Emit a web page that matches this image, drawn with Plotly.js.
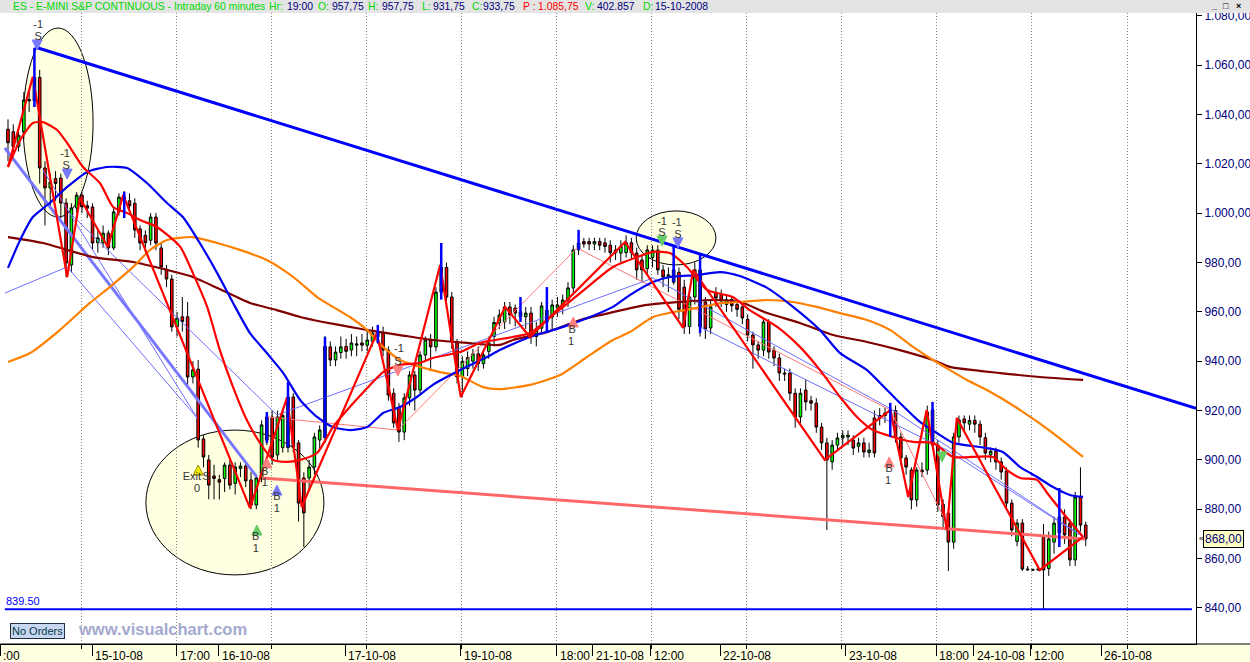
<!DOCTYPE html>
<html><head><meta charset="utf-8">
<script src="https://cdn.plot.ly/plotly-3.0.1.min.js"></script>
<style>
html,body{margin:0;padding:0;background:#fff;}
#wrap{position:relative;width:1250px;height:662px;overflow:hidden;}
#chart{position:absolute;left:0;top:0;width:1250px;height:662px;}
#hdr{position:absolute;left:0;top:0;width:1250px;height:13px;background:#e4e4e4;z-index:10;font-family:"Liberation Sans",Arial,sans-serif;font-size:10.4px;line-height:13px;white-space:nowrap;}
#hdr span{position:absolute;top:0;}
.g{color:#00d800}.n{color:#000080}.r{color:#ff0000}.k{color:#000;font-size:9px;line-height:11px;font-weight:bold}
</style></head><body>
<div id="wrap"><div id="chart"></div>
<div id="hdr">
<span class="g" style="left:13px">ES - E-MINI S&amp;P CONTINUOUS - Intraday 60 minutes</span>
<span class="g" style="left:269px">Hr:</span><span class="n" style="left:287px">19:00</span>
<span class="g" style="left:318px">O:</span><span class="n" style="left:332px">957,75</span>
<span class="g" style="left:368px">H:</span><span class="n" style="left:382px">957,75</span>
<span class="g" style="left:422px">L:</span><span class="n" style="left:433px">931,75</span>
<span class="g" style="left:472px">C:</span><span class="n" style="left:483px">933,75</span>
<span class="r" style="left:523px">P :</span><span class="r" style="left:538px">1.085,75</span>
<span class="g" style="left:585px">V:</span><span class="n" style="left:597px">402.857</span>
<span class="g" style="left:643px">D:</span><span class="n" style="left:655px">15-10-2008</span>
<span class="k" style="left:1212px;top:1px">_</span>
<span class="k" style="left:1223px;top:1px">□</span>
<span class="k" style="left:1236px;top:1px">×</span>
</div></div>
<script>
// ---------- candle data (60-minute bars) ----------
const opens = [1034,1033,1027,1033,1046,1045.5,1055,1018.3,1010.2,1014,
1014.2,1004.1,979,1002.1,1007.3,1003,1002.5,988,988,991.9,
985.9,1000.5,1006.5,1005,1004,993.6,991,989,998.4,985.9,
977,973.3,953.9,958,958,933.6,936.8,908.5,900,893.5,
892,892.5,897.9,890.5,896.5,897.5,891.9,881.7,892.7,908,
917.4,902,905,905,925.5,906.9,892.7,892.7,897.1,908.1,
909,945.8,940.5,943.5,946,944.5,946.5,947.4,946.5,948,
950,951.4,944.5,927,921.4,911.3,925.1,934.4,928.3,942.5,
948.6,945.8,968,978,966,947.8,933.6,937,940,943,
939,944,950,955.5,956,962,961.5,958,958,959.5,
950,953.4,955.9,957.9,961.5,962,964.8,969.7,985.1,988.5,
988.5,987.5,988.5,988,987,984,983.8,984,988,983.8,
981,977.5,982,985,977,974,972,976,970,954,
966,977,964,953.5,967.6,967,963,965,963,962,
957,950.6,946.6,944.5,955.9,944.5,941.3,935.2,935.2,927,
917.4,928.3,924,923,913.3,906.9,899.2,906,908.9,909.3,
908,905.5,906.9,903,917,918,919,920,920,909.3,
900.8,895.9,883.8,895.9,895.9,920.2,906,882,878.5,866.7,
909.3,916.6,914.5,916,914.5,909,902,903.5,899.2,895.5,
882.5,867,874.4,855.8,855.5,855.4,868.8,856,866.7,870.4,
876.9,874.4,859.5,885,873.6];
const highs = [1038,1036,1035,1049,1050,1058,1058,1021,1016,1017,
1016,1006,1004,1008.5,1008.5,1005,1004,993,995,993,
1002,1008,1009,1008,1006,995,993,1000,1000,988,
979,975,960,966,964,940,940.5,910,902,898,
894,899,900,899,899,899,895,894,916,919.4,
920,920,920,931.6,927,908,895,900,911,914,
950.2,948,946,950,949,951,950,951,952,954,
954.7,954,946,929,923,927,936,936,944,950,
951,970,987.9,980,968,949,942,944,945,946,
945,950,958,961,964,964,963,966,962,962,
956,964,970,965,966,967,972,987,993.2,990,
990,990,990,990,989,987,989,991,990,986,
983,987,987,987,979,978,986.3,978,973,968,
980,983,966,965,970,969,967,966,965,963,
959,952,948,957,957,946,943,937,937,929,
929,932.4,926,925,915,909,908,911,912,912,
910,909,909,907,920,921,921,923.1,922,911,
902,897,897,899,922,923.5,908,884,880,911,
918,918,918,918,916,911,905,905,901,897,
884,876,876,857,856,856.5,874,871,877,888.6,
880,876,887,897,875];
const lows = [1021,1024,1025,1030,1041,1043,1012,995,1002,1005,
998,974,976,1000,1000,998,985,984,986,983,
985,999,998,1000,990,985,984,987,985,975,
970,952,950,952,930,931,905,897,884,884,
884,887,888,886,893,889,880,880,891,906,
898,900,903,903,903,875,864.7,888,894,904,
907,938,938,941,941,942,942,944,944,946,
947,942,924,913,907.3,908,922,920,926,940,
936,944,965,963,945,931,925.5,934,937,936,
937,941,946,953,953,955,954,955.9,953,947,
946,951,951.4,953,958,959,962,967,983,986,
985,985,985,984,980,981,980,982,981,973,
972,975,978,975,970,968,971,957,951,951,
963,950,949,951,962,962,960,960,958,955,
948,937,941,942,941,938,932,932,924,913,
915,920,920,911,904,871.6,896,904,906,906,
902,903,901,901,901,914,915,916,907,898,
894,880,881,893,894,904,879,872,855,864,
907,912,912,911,906,900,899,896,892,880,
869,865,855,855,855,855,839.5,853,862,866,
866,857,857,871,865];
const closes = [1028.5,1027,1031.5,1045.8,1045.5,1055,1018.3,1010.2,1012.6,1012,
1004.1,979.8,1002.1,1007.3,1002.5,1002,987.9,990,991.9,985.9,
1000.5,1006.5,1005,1003,993.2,987.9,988,998.4,987.9,978.2,
973.3,953.9,957.5,956,933.6,936.5,908.1,901.2,889.8,892.5,
891,897.9,889.8,897.1,897.5,891.5,881.7,892.7,914.2,917.4,
901.2,917.4,918,925.5,905.2,882.5,878.5,897.1,909.3,912.1,
946,940.5,943.7,945.8,944,947.4,947,946.5,948.6,951.4,
952,944.5,926.3,915,911.3,925.1,934.4,928.3,942.5,948.6,
945.8,968,978,966,947.8,933.6,940,941.5,943,939,
942.5,947.4,955.7,958.7,962,958.7,959.5,960,959.5,949.8,
952.5,962.4,960.7,962.8,962.8,964.8,969.7,985.1,987.9,987.5,
987.5,988.5,987,986.5,984,985,986.6,988,984,977,
977,985.1,985,977,974.1,975,977,961,954,966,
977,954,953,962,965.6,964.5,965,962.5,961,957.5,
950.6,946.6,944.5,955.9,943.7,941.3,935.2,934.8,927,917.4,
927,923.5,923,913.3,906.9,900,906,908.9,910,910,
904.8,906.9,903.2,904,902.8,917,918,919,909.3,900.8,
897.1,883.8,895.9,895.1,919.4,906,881.7,877,866.7,909.3,
916.2,915,916,914.5,909.3,902.8,903.5,899.2,895.1,882.5,
871.6,874.4,855.8,855.5,855.4,855.8,855.4,868,874.4,876.9,
869.6,859.5,885,873.6,868];

// ---------- indicator lines (bar index, price) ----------
const blueMAx = [0,2.3,4.7,7.9,11.2,15.0,18.7,22.5,26.3,30.1,33.1,36.3,39.6,42.6,45.8,49.0,52.1,55.3,58.5,61.5,64.7,68.0,71.0,74.2,77.4,80.4,85.6,90.7,93.1,98.8,105.1,110.2,114.5,117.7,122.1,125.3,130.4,134.8,138.5,143.7,148.6,153.7,157.5,162.6,166.4,168.8,172.6,175.8,178.9,185.3,188.3,191.6,194.8,197.8,201.0,203.5];
const blueMAy = [977.8,989.1,998.4,1004.1,1010.6,1016.7,1018.7,1018.3,1012.2,1004.1,998.4,987.9,975.7,963.6,951.4,943.3,935.2,924.3,917.4,913.3,912.1,913.3,919.0,921.4,925.5,930.4,936.4,941.7,944.5,949.8,953.9,957.9,962.0,966.8,972.1,974.1,974.9,976.1,974.5,969.7,962.0,952.6,943.3,936.4,928.3,923.1,915.4,910.9,906.9,904.8,903.2,897.1,893.1,889.0,885.8,885.0];
const orangeMAx = [0,4.2,9.8,15.5,19.3,23.7,26.9,30.1,35.0,39.6,43.9,49.0,52.1,54.7,58.5,61.5,64.7,68.0,71.0,74.2,78.0,81.8,85.6,89.9,93.1,98.8,104.5,109.6,114.5,117.7,122.1,125.9,130.4,135.3,138.6,143.7,148.6,153.1,157.5,162.6,167.0,171.3,175.1,178.3,181.5,185.3,191.6,197.8,203.5];
const orangeMAy = [939.7,943.3,952.6,963.6,970.1,978.2,985.1,989.1,990.3,987.9,985.1,981.0,977.0,972.9,966.0,962.0,957.9,952.6,945.8,940.5,937.7,935.6,934.0,929.5,928.7,930.4,934.4,941.7,948.6,951.8,957.9,959.9,961.6,963.6,964.0,964.8,964.0,962.0,959.5,956.7,952.6,945.8,940.5,936.4,932.4,928.3,920.2,910.9,901.2];
const maroonMAx = [0,6.6,16.1,23.7,30.1,34.5,39.6,45.8,50.9,55.3,59.6,64.7,68.0,74.2,80.4,86.9,93.1,95.6,102.0,108.3,114.5,121.0,127.2,133.4,138.6,143.7,149.9,156.2,162.6,168.8,175.1,178.3,187.8,195.3,203.5];
const maroonMAy = [990.3,987.9,982.2,980.2,977.0,974.5,969.7,963.6,960.7,957.9,955.9,953.9,952.6,950.6,948.6,947.4,946.6,948.6,951.8,956.7,959.9,962.8,964.0,964.8,964.0,959.5,955.5,950.6,947.8,944.5,940.5,937.7,935.2,933.6,932.4];
const redMAx = [0,2.3,4.7,6.6,9.3,11.2,14.2,17.4,19.9,22.5,25.0,28.2,32.6,35.0,37.7,40.1,42.6,45.2,47.7,50.2,52.8,55.3,58.5,61.5,64.7,68.0,71.0,74.2,78.0,80.4,85.6,89.3,95.6,98.8,102.0,108.3,114.5,119.1,122.1,125.3,128.5,132.3,137.2,140.4,145.6,149.9,153.7,157.5,160.7,163.7,167.5,171.3,175.1,178.9,186.4,189.1,191.6,194.8,196.7,199.7,203.5];
const redMAy = [1018.7,1029.6,1036.5,1036.9,1033.7,1028.4,1018.7,1012.2,1002.5,1000.1,997.2,994.4,986.3,975.7,962.0,944.5,929.5,916.2,906.9,900.0,899.2,900.0,902.8,913.3,921.4,929.1,935.6,938.5,939.3,941.3,943.7,947.4,949.8,951.4,956.7,967.6,978.2,982.2,984.3,983.8,978.2,968.9,966.0,960.7,953.9,945.8,936.4,925.5,917.4,912.1,909.3,907.3,906.9,901.2,901.2,895.9,892.7,891.9,886.6,878.5,868.8];
const zigX = [0,4.7,11.2,13.6,18.9,21.8,45.8,52.8,55.6,69.8,73.8,81.8,85.7,94.1,98.8,116.8,127.8,129.7,154.6,167.0,170.4,173.9,177.7,179.6,195.3,203.5];
const zigY = [1018.7,1055.2,974.1,1006.1,986.3,1007.3,880.5,925.1,880.9,951.4,912.1,979.0,925.5,962.0,949.8,988.3,953.5,977.0,900.0,920.2,885.0,920.2,871.6,917.0,855.4,868.8];
const resistX = [5.1,224.87], resistY = [1067.3,920.9];
const supportX = [48.1,203.9], supportY = [892.7,868.0];
const levelX = [-0.6,224.1], levelY = [839.5,839.5];
const periThickX = [-0.6,47.1], periThickY = [1026.4,893.1];
const peri1X = [-0.6,11.2,35.8], peri1Y = [967.6,978.2,917.0];
const peri2X = [6.6,35.8], peri2Y = [1017.5,917.0];
const peri3X = [12.1,50.9,122.1,167.5,203.5], peri3Y = [999.2,918.2,973.7,920.2,868.8];
const peri4X = [131.0,177.7,203.5], peri4Y = [953.9,904.0,868.8];
const salmonThinX = [49.0,73.8,107.7,167.0,177.7], salmonThinY = [917.4,912.1,985.9,920.2,874.4];
const sigBarX  = [5,22,49,53,60,70,82,97,102,108,126,131,167,175,199];
const sigBarHi = [1067,1008.6,919.4,931.6,949.8,954.7,987.9,966,970,993.2,986.3,983,923.1,923.5,888.6];
const sigBarLo = [1043,998,906.9,905.2,909,947.4,965,955.9,951.4,985.1,972.1,951.4,909.3,907.3,864.7];

// ---------- trade signals ----------
const arrowX = [5.5,11.2,36.0,49.0,50.9,47.1,73.8,107.0,123.8,126.8,166.8,176.8];
const arrowY = [1066.1,1013.8,897.9,900.8,889.8,873.6,934.0,957.9,986.7,985.9,901.2,899.2];
const arrowDir = ['down','down','up','up','up','up','down','up','down','down','up','down'];
const arrowKind = ['blue','blue','exit','pink','blue','green','pink','pink','green','blue','pink','green'];
const sigTextX = [5.7,5.7,10.8,11.0,34.8,35.8,37.5,48.6,48.6,50.9,50.9,46.9,46.9,74.0,73.8,106.8,106.6,123.8,123.8,126.6,126.8,166.8,166.6];
const sigTextY = [1076.2,1071.4,1024.0,1019.1,893.1,888.2,893.1,895.1,890.6,885.0,880.1,868.8,863.9,944.9,939.7,952.6,947.8,996.4,992.0,996.0,991.1,896.3,891.5];
const sigText = ['-1','S','-1','S','Exit','0','S','B','1','B','1','B','1','-1','S','B','1','-1','S','-1','S','B','1'];

// ---------- highlight ellipses ----------
const ellX0 = [2.84,26.1,118.9], ellX1 = [16.1,59.8,134.0];
const ellY0 = [998.4,853.4,979.0], ellY1 = [1075.0,912.1,1000.9];

// ---------- axis labels ----------
const xTickPos = [-1.5,15.9,31.9,39.9,63.8,85.7,103.9,110.7,121.7,134.8,158.6,175.7,182.8,193.6,206.9];
const xTickText = [':00','15-10-08','17:00','16-10-08','17-10-08','19-10-08','18:00','21-10-08','12:00','22-10-08','23-10-08','18:00','24-10-08','12:00','26-10-08'];
const yTickVals = [840,860,880,900,920,940,960,980,1000,1020,1040,1060,1080];
const yTickText = ['840,00','860,00','880,00','900,00','920,00','940,00','960,00','980,00','1.000,00','1.020,00','1.040,00','1.060,00','1.080,00'];
const lastPrice = 868;

const FONT = 'Liberation Sans, Arial, sans-serif';
const barX = opens.map((_, i) => i);
const kindColor = {blue:'#7878ff', exit:'#f4f000', pink:'#ff8080', green:'#66cc66'};

function line(x, y, color, width, shape) {
  return {type:'scatter', mode:'lines', x:x, y:y, hoverinfo:'skip',
    line:{color:color, width:width, shape:shape || 'linear', smoothing:0.6}};
}
const sbx = [], sby = [];
sigBarX.forEach((b, k) => { sbx.push(b, b, null); sby.push(sigBarLo[k], sigBarHi[k], null); });

const traces = [
  {type:'candlestick', x:barX, open:opens, high:highs, low:lows, close:closes, hoverinfo:'skip',
   increasing:{line:{color:'#000', width:1}, fillcolor:'#00ff00'},
   decreasing:{line:{color:'#000', width:1}, fillcolor:'#ff0000'}, whiskerwidth:0},
  line(peri1X, peri1Y, '#6e6eff', 1),
  line(peri2X, peri2Y, '#6e6eff', 1),
  line(peri3X, peri3Y, '#6e6eff', 1),
  line(peri4X, peri4Y, '#6e6eff', 1),
  line(periThickX, periThickY, '#7878ff', 3),
  line(salmonThinX, salmonThinY, '#ff7a7a', 1),
  line(supportX, supportY, '#ff6868', 3),
  line(maroonMAx, maroonMAy, '#800000', 2.2, 'spline'),
  line(orangeMAx, orangeMAy, '#ff8000', 2.2, 'spline'),
  line(blueMAx, blueMAy, '#0000f0', 2.2, 'spline'),
  line(redMAx, redMAy, '#ff0000', 2.2, 'spline'),
  line(zigX, zigY, '#ff0000', 2.2),
  line(sbx, sby, '#0000ff', 2.5),
  line(resistX, resistY, '#0000ff', 3),
  line(levelX, levelY, '#0000ff', 2),
  {type:'scatter', mode:'markers', x:arrowX, y:arrowY, hoverinfo:'skip',
   marker:{symbol:arrowDir.map(d => 'arrow-' + d), size:10,
     color:arrowKind.map(k => kindColor[k]),
     line:{color:arrowKind.map(k => k === 'exit' ? '#a09000' : kindColor[k]), width:1}}},
  {type:'scatter', mode:'text', x:sigTextX, y:sigTextY, text:sigText, xaxis:'x2', hoverinfo:'skip',
   textfont:{family:FONT, size:11, color:'#333333'}, cliponaxis:false}
];

const shapes = [];
ellX0.forEach((_, k) => shapes.push({type:'circle', xref:'x', yref:'y',
  x0:ellX0[k], x1:ellX1[k], y0:ellY0[k], y1:ellY1[k],
  fillcolor:'rgb(255,255,226)', line:{color:'#000', width:1}, layer:'below'}));
const PW = 1196, PH = 631;
shapes.push({type:'rect', xref:'paper', yref:'paper', x0:0, x1:1250/PW, y0:-18/PH, y1:0,
  fillcolor:'#ffffe1', line:{width:0}, layer:'below'});
shapes.push({type:'line', xref:'paper', yref:'paper', x0:0, x1:1250/PW, y0:0, y1:0,
  line:{color:'#000', width:1}});

const annotations = xTickPos.map((p, k) => ({x:p, xref:'x', y:-12/PH, yref:'paper',
  text:xTickText[k], showarrow:false, xanchor:'left', yanchor:'middle', xshift:1,
  font:{family:FONT, size:12, color:'#000'}}));
annotations.push({x:4/PW, xref:'paper', y:843, yref:'y', text:'839.50', showarrow:false,
  xanchor:'left', yanchor:'middle', font:{family:FONT, size:11, color:'#0000ff'}});
annotations.push({x:10/PW, xref:'paper', y:13.5/PH, yref:'paper', text:'No Orders', showarrow:false,
  xanchor:'left', yanchor:'middle', bgcolor:'#c6d7ef', bordercolor:'#203040', borderwidth:1, borderpad:1,
  font:{family:FONT, size:11, color:'#0a3a4a'}});
annotations.push({x:76/PW, xref:'paper', y:15.5/PH, yref:'paper', text:'<b>www.visualchart.com</b>', showarrow:false,
  xanchor:'left', yanchor:'middle', font:{family:FONT, size:16.5, color:'#a4a9cf'}});
annotations.push({x:1203/PW, xref:'paper', y:lastPrice, yref:'y', text:lastPrice.toFixed(2).replace('.', ','),
  showarrow:false, xanchor:'left', yanchor:'middle', bgcolor:'#ffffc0', bordercolor:'#000', borderwidth:1, borderpad:1,
  font:{family:FONT, size:12, color:'#000080'}});
annotations.push({x:1197/PW, xref:'paper', y:lastPrice, yref:'y', text:'«', showarrow:false,
  xanchor:'left', yanchor:'middle', font:{family:FONT, size:8, color:'#000'}});

const layout = {
  width:1250, height:662, margin:{l:0, r:54, t:13, b:18, pad:0},
  paper_bgcolor:'#ffffff', plot_bgcolor:'#ffffff', showlegend:false, hovermode:false,
  xaxis:{range:[-1.514,224.87], showline:true, linecolor:'#000', linewidth:1,
    showgrid:true, gridcolor:'#8a8a8a', griddash:'1px,2px', gridwidth:1,
    tickmode:'linear', tick0:13.82, dtick:18, ticks:'outside', ticklen:4, tickcolor:'#000',
    showticklabels:false, zeroline:false, rangeslider:{visible:false}, fixedrange:true},
  xaxis2:{overlaying:'x', matches:'x', anchor:'y', side:'bottom', tickmode:'array', tickvals:xTickPos,
    ticks:'outside', ticklen:11, tickcolor:'#000', showticklabels:false, showgrid:false,
    zeroline:false, showline:false},
  yaxis:{side:'right', range:[825.41,1081.09], tickmode:'array', tickvals:yTickVals, ticktext:yTickText,
    ticks:'outside', ticklen:5, tickcolor:'#000', showline:true, linecolor:'#000', linewidth:1,
    showgrid:false, zeroline:false, fixedrange:true,
    tickfont:{family:FONT, size:12, color:'#000080'}},
  shapes:shapes, annotations:annotations
};
Plotly.newPlot('chart', traces, layout, {staticPlot:true, displayModeBar:false});
</script>
</body></html>
